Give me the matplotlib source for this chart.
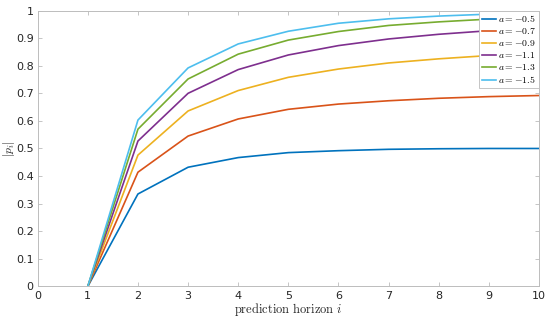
import matplotlib
matplotlib.use('Agg')
import matplotlib.pyplot as plt

# prediction horizon and |p_i| for each value of a
horizon = [1, 2, 3, 4, 5, 6, 7, 8, 9, 10]
a_labels = ['-0.5', '-0.7', '-0.9', '-1.1', '-1.3', '-1.5']
p_a05 = [0, 0.335, 0.432, 0.467, 0.485, 0.492, 0.497, 0.499, 0.5, 0.5]
p_a07 = [0, 0.414, 0.545, 0.607, 0.642, 0.661, 0.673, 0.682, 0.688, 0.692]
p_a09 = [0, 0.476, 0.636, 0.710, 0.758, 0.788, 0.810, 0.825, 0.837, 0.848]
p_a11 = [0, 0.527, 0.700, 0.786, 0.839, 0.873, 0.897, 0.914, 0.927, 0.938]
p_a13 = [0, 0.570, 0.752, 0.842, 0.893, 0.924, 0.946, 0.959, 0.969, 0.978]
p_a15 = [0, 0.603, 0.792, 0.879, 0.925, 0.954, 0.970, 0.980, 0.987, 0.991]
series = [p_a05, p_a07, p_a09, p_a11, p_a13, p_a15]

# MATLAB default colour order
colors = ['#0072BD', '#D95319', '#EDB120', '#7E2F8E', '#77AC30', '#4DBEEE']

plt.rcParams['mathtext.fontset'] = 'cm'
plt.rcParams['font.family'] = ['DejaVu Sans']

fig = plt.figure(figsize=(5.5, 3.2), dpi=100)
ax = fig.add_axes([0.0685, 0.105, 0.9115, 0.862])

for vals, lab, col in zip(series, a_labels, colors):
    ax.plot(horizon, vals, color=col, linewidth=1.2, label=r'$a = ' + lab + '$')

ax.set_xlim(0, 10)
ax.set_ylim(0, 1)
ax.set_xticks(range(0, 11))
ax.set_yticks([i / 10 for i in range(11)])
ax.set_yticklabels(['0', '0.1', '0.2', '0.3', '0.4', '0.5', '0.6', '0.7', '0.8', '0.9', '1'])

ax.tick_params(direction='in', top=True, right=True, length=3, width=0.6,
               color='#bcbcbc', labelcolor='#262626', labelsize=8, pad=3)
for sp in ax.spines.values():
    sp.set_color('#bcbcbc')
    sp.set_linewidth(0.7)

ax.set_xlabel(r'$\mathrm{prediction\ horizon}\ i$', fontsize=9, color='#262626', labelpad=0)
ax.set_ylabel(r'$|p_i|$', fontsize=8.5, color='#262626')
ax.yaxis.set_label_coords(-0.041, 0.5)

leg = ax.legend(loc='upper right', fontsize=7, handlelength=1.5, handletextpad=0.2,
                labelspacing=0.2, borderpad=0.3, borderaxespad=0.0, fancybox=False,
                framealpha=1)
leg.get_frame().set_edgecolor('#bcbcbc')
leg.get_frame().set_linewidth(0.6)

fig.savefig('out.png', dpi=100)
